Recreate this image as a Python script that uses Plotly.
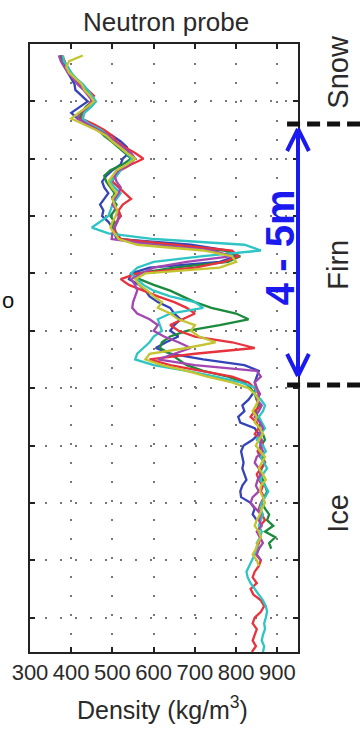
import plotly.graph_objects as go

# Depth below surface (m) at which each density reading was logged
DEPTH = [0.2, 0.3, 0.4, 0.5, 0.6, 0.7, 0.8, 0.9, 1.0, 1.1,
         1.2, 1.3, 1.4, 1.5, 1.6, 1.7, 1.8, 1.9, 2.0, 2.1,
         2.2, 2.3, 2.4, 2.5, 2.6, 2.7, 2.8, 2.9, 3.0, 3.1,
         3.2, 3.3, 3.4, 3.5, 3.6, 3.7, 3.8, 3.9, 4.0, 4.1,
         4.2, 4.3, 4.4, 4.5, 4.6, 4.7, 4.8, 4.9, 5.0, 5.1,
         5.2, 5.3, 5.4, 5.5, 5.6, 5.7, 5.8, 5.9, 6.0, 6.1,
         6.2, 6.3, 6.4, 6.5, 6.6, 6.7, 6.8, 6.9, 7.0, 7.1,
         7.2, 7.3, 7.4, 7.5, 7.6, 7.7, 7.8, 7.9, 8.0, 8.1,
         8.2, 8.3, 8.4, 8.5, 8.6, 8.7, 8.8, 8.9, 9.0, 9.1,
         9.2, 9.3, 9.4, 9.5, 9.6, 9.7, 9.8, 9.9, 10.0, 10.1,
         10.2, 10.3, 10.4, 10.5, 10.6]

# Neutron-probe density profiles (kg/m3), one per borehole
PROFILE_1 = [375, 380, 385, 392, 400, 408, 410, 425, 440, 420,
             400, 415, 445, 470, 500, 520, 535, 540, 525, 520,
             500, 485, 475, 480, 490, 480, 470, 478, 475, 490,
             500, 505, 510, 690, 780, 800, 760, 590, 545, 540,
             565, 580, 590, 610, 640, 650, 665, 650, 640, 660,
             630, 605, 640, 720, 820, 855, 850, 845, 850, 840,
             830, 815, 820, 805, 810, 845, 855, 840, 818, 812,
             815, 818, 815, 820, 825, 815, 810, 812, 835, 845,
             840, 850]
PROFILE_2 = [372, 378, 388, 398, 410, 422, 438, 445, 450, 435,
             425, 420, 440, 465, 480, 498, 515, 530, 545, 525,
             495, 480, 485, 495, 505, 500, 510, 505, 495, 505,
             498, 510, 520, 640, 770, 810, 780, 650, 560, 565,
             600, 640, 670, 700, 740, 800, 830, 760, 680, 640,
             620, 615, 640, 660, 680, 720, 780, 820, 835, 845,
             850, 855, 848, 852, 860, 855, 865, 870, 860, 855,
             865, 870, 862, 858, 865, 870, 875, 868, 862, 870,
             880, 875, 890, 870, 895, 880, 885]
PROFILE_3 = [378, 385, 390, 395, 405, 418, 440, 455, 448, 440,
             430, 425, 455, 480, 500, 510, 530, 555, 575, 545,
             520, 505, 500, 515, 530, 545, 525, 515, 520, 510,
             505, 508, 520, 650, 790, 805, 770, 700, 560, 520,
             540, 575, 610, 650, 680, 700, 670, 640, 660, 700,
             790, 845, 700, 590, 640, 720, 790, 830, 845, 855,
             850, 860, 845, 835, 850, 855, 845, 860, 865, 852,
             858, 870, 860, 850, 855, 865, 860, 868, 860, 855,
             862, 870, 858, 852, 860, 855, 850, 848, 860, 855,
             845, 840, 850, 835, 842, 860, 868, 860, 845, 840,
             850, 845, 840, 848, 838]
PROFILE_4 = [380, 382, 392, 400, 412, 428, 440, 450, 460, 448,
             432, 428, 445, 472, 490, 505, 520, 535, 548, 535,
             520, 510, 495, 505, 520, 510, 500, 495, 490, 470,
             450, 490, 600, 820, 860, 720, 600, 560, 545, 560,
             575, 600, 640, 700, 720, 640, 610, 615, 620, 600,
             590, 575, 560, 555, 600, 680, 750, 810, 850, 845,
             860, 870, 865, 855, 862, 870, 858, 850, 865, 872,
             860, 868, 875, 865, 858, 870, 878, 870, 862, 858,
             865, 860, 855, 862, 858, 850, 855, 845, 838, 830,
             825, 828, 835, 845, 855, 865, 872, 875, 872, 868,
             870, 865, 862, 868, 865]
PROFILE_5 = [370, 375, 383, 392, 405, 415, 430, 440, 452, 440,
             420, 415, 440, 468, 490, 505, 525, 545, 555, 540,
             515, 505, 510, 520, 515, 505, 500, 510, 515, 512,
             505, 500, 498, 600, 740, 790, 680, 600, 570, 545,
             555, 560, 555, 550, 548, 560, 590, 610, 600, 625,
             660, 690, 650, 610, 700, 850, 860, 845, 850, 858,
             850, 862, 855, 845, 858, 865, 855, 862, 858, 865,
             850, 845, 855, 860, 852, 848, 855, 840, 835, 848,
             860, 855, 862, 850, 858, 865, 855, 850, 860]
PROFILE_6 = [428, 395, 388, 395, 410, 425, 432, 445, 455, 438,
             418, 400, 430, 460, 485, 500, 518, 535, 555, 535,
             510, 500, 490, 498, 510, 500, 505, 512, 508, 500,
             495, 505, 515, 560, 720, 790, 800, 760, 580, 555,
             565, 585, 600, 620, 610, 640, 660, 700, 690, 710,
             750, 680, 590, 580, 620, 680, 730, 790, 830, 845,
             855, 848, 840, 850, 845, 858, 865, 855, 848, 858,
             870, 862, 855, 865, 872, 860, 858, 865, 870, 862,
             858, 850, 845, 855, 860, 852, 848, 840, 850, 855]

PROFILES = [PROFILE_1, PROFILE_2, PROFILE_3, PROFILE_4, PROFILE_5, PROFILE_6]
COLORS = ["#3444b8", "#1b8a3c", "#e8323c", "#2ec4c4", "#a346b0", "#c4c431"]

X_TICKS = [300, 400, 500, 600, 700, 800, 900]
Y_TICKS = [1, 2, 3, 4, 5, 6, 7, 8, 9, 10]

FONT = "Liberation Sans Narrow, Arial Narrow, Liberation Sans, sans-serif"
WIDE = "Liberation Sans, sans-serif"
TEXT = "#2a2a2a"
BLUE = "#1a1af0"

fig = go.Figure()
for vals, col in zip(PROFILES, COLORS):
    fig.add_trace(go.Scatter(
        x=vals, y=DEPTH[:len(vals)], mode="lines",
        line=dict(color=col, width=2.3), showlegend=False,
    ))

fig.update_layout(
    width=360, height=736,
    margin=dict(l=28, r=62, t=44, b=84, pad=0),
    paper_bgcolor="white", plot_bgcolor="white",
    font=dict(family=FONT, color=TEXT),
    xaxis=dict(
        range=[300, 950], tickvals=X_TICKS, ticks="inside", ticklen=5,
        tickwidth=1.5, tickcolor="#222", showline=True, linecolor="#222",
        linewidth=2, mirror="ticks", showgrid=True, gridcolor="#777",
        gridwidth=2, griddash="2px,17px", zeroline=False,
        tickfont=dict(size=22, family=FONT, color=TEXT),
    ),
    yaxis=dict(
        range=[10.6, 0], tickvals=Y_TICKS, showticklabels=False,
        ticks="inside", ticklen=5, tickwidth=1.5, tickcolor="#222",
        showline=True, linecolor="#222", linewidth=2, mirror="ticks",
        showgrid=True, gridcolor="#777", gridwidth=2,
        griddash="2px,13px", zeroline=False,
    ),
)

def px_x(px):
    return (px - 28) / 270.0

def px_y(py):
    return (652 - py) / 608.0

annotations = [
    dict(text="Neutron probe", x=px_x(165), y=px_y(22),
         font=dict(size=26, family=FONT)),
    dict(text="Density (kg/m<sup>3</sup>)", x=px_x(161), y=px_y(708),
         font=dict(size=25, family=FONT)),
    dict(text="Snow", x=px_x(338), y=px_y(72), textangle=-90,
         font=dict(size=29, family=WIDE)),
    dict(text="Firn", x=px_x(338), y=px_y(265), textangle=-90,
         font=dict(size=29, family=WIDE)),
    dict(text="Ice", x=px_x(338), y=px_y(513), textangle=-90,
         font=dict(size=29, family=WIDE)),
    dict(text="<b>4 - 5m</b>", x=px_x(280), y=px_y(247), textangle=-90,
         font=dict(size=40, color=BLUE, family=WIDE)),
    dict(text="o", x=px_x(6), y=px_y(300),
         font=dict(size=22, color="#111", family=WIDE)),
]
for a in annotations:
    fig.add_annotation(xref="paper", yref="paper", showarrow=False,
                       xanchor="center", yanchor="middle", **a)

shapes = []
# layer boundaries (snow/firn and firn/ice)
for py in (124, 385):
    shapes.append(dict(type="line", xref="paper", yref="paper",
                       x0=px_x(287), x1=px_x(362), y0=px_y(py), y1=px_y(py),
                       line=dict(color="#111", width=5, dash="13px,7px")))
# double-headed thickness arrow
shapes.append(dict(type="line", xref="paper", yref="paper",
                   x0=px_x(298), x1=px_x(298), y0=px_y(129), y1=px_y(376),
                   line=dict(color=BLUE, width=4)))
for tip, arm in ((129, 151), (376, 354)):
    for side in (287, 309):
        shapes.append(dict(type="line", xref="paper", yref="paper",
                           x0=px_x(298), x1=px_x(side), y0=px_y(tip), y1=px_y(arm),
                           line=dict(color=BLUE, width=4)))
for s in shapes:
    fig.add_shape(layer="above", **s)

fig.write_html("out.html")
